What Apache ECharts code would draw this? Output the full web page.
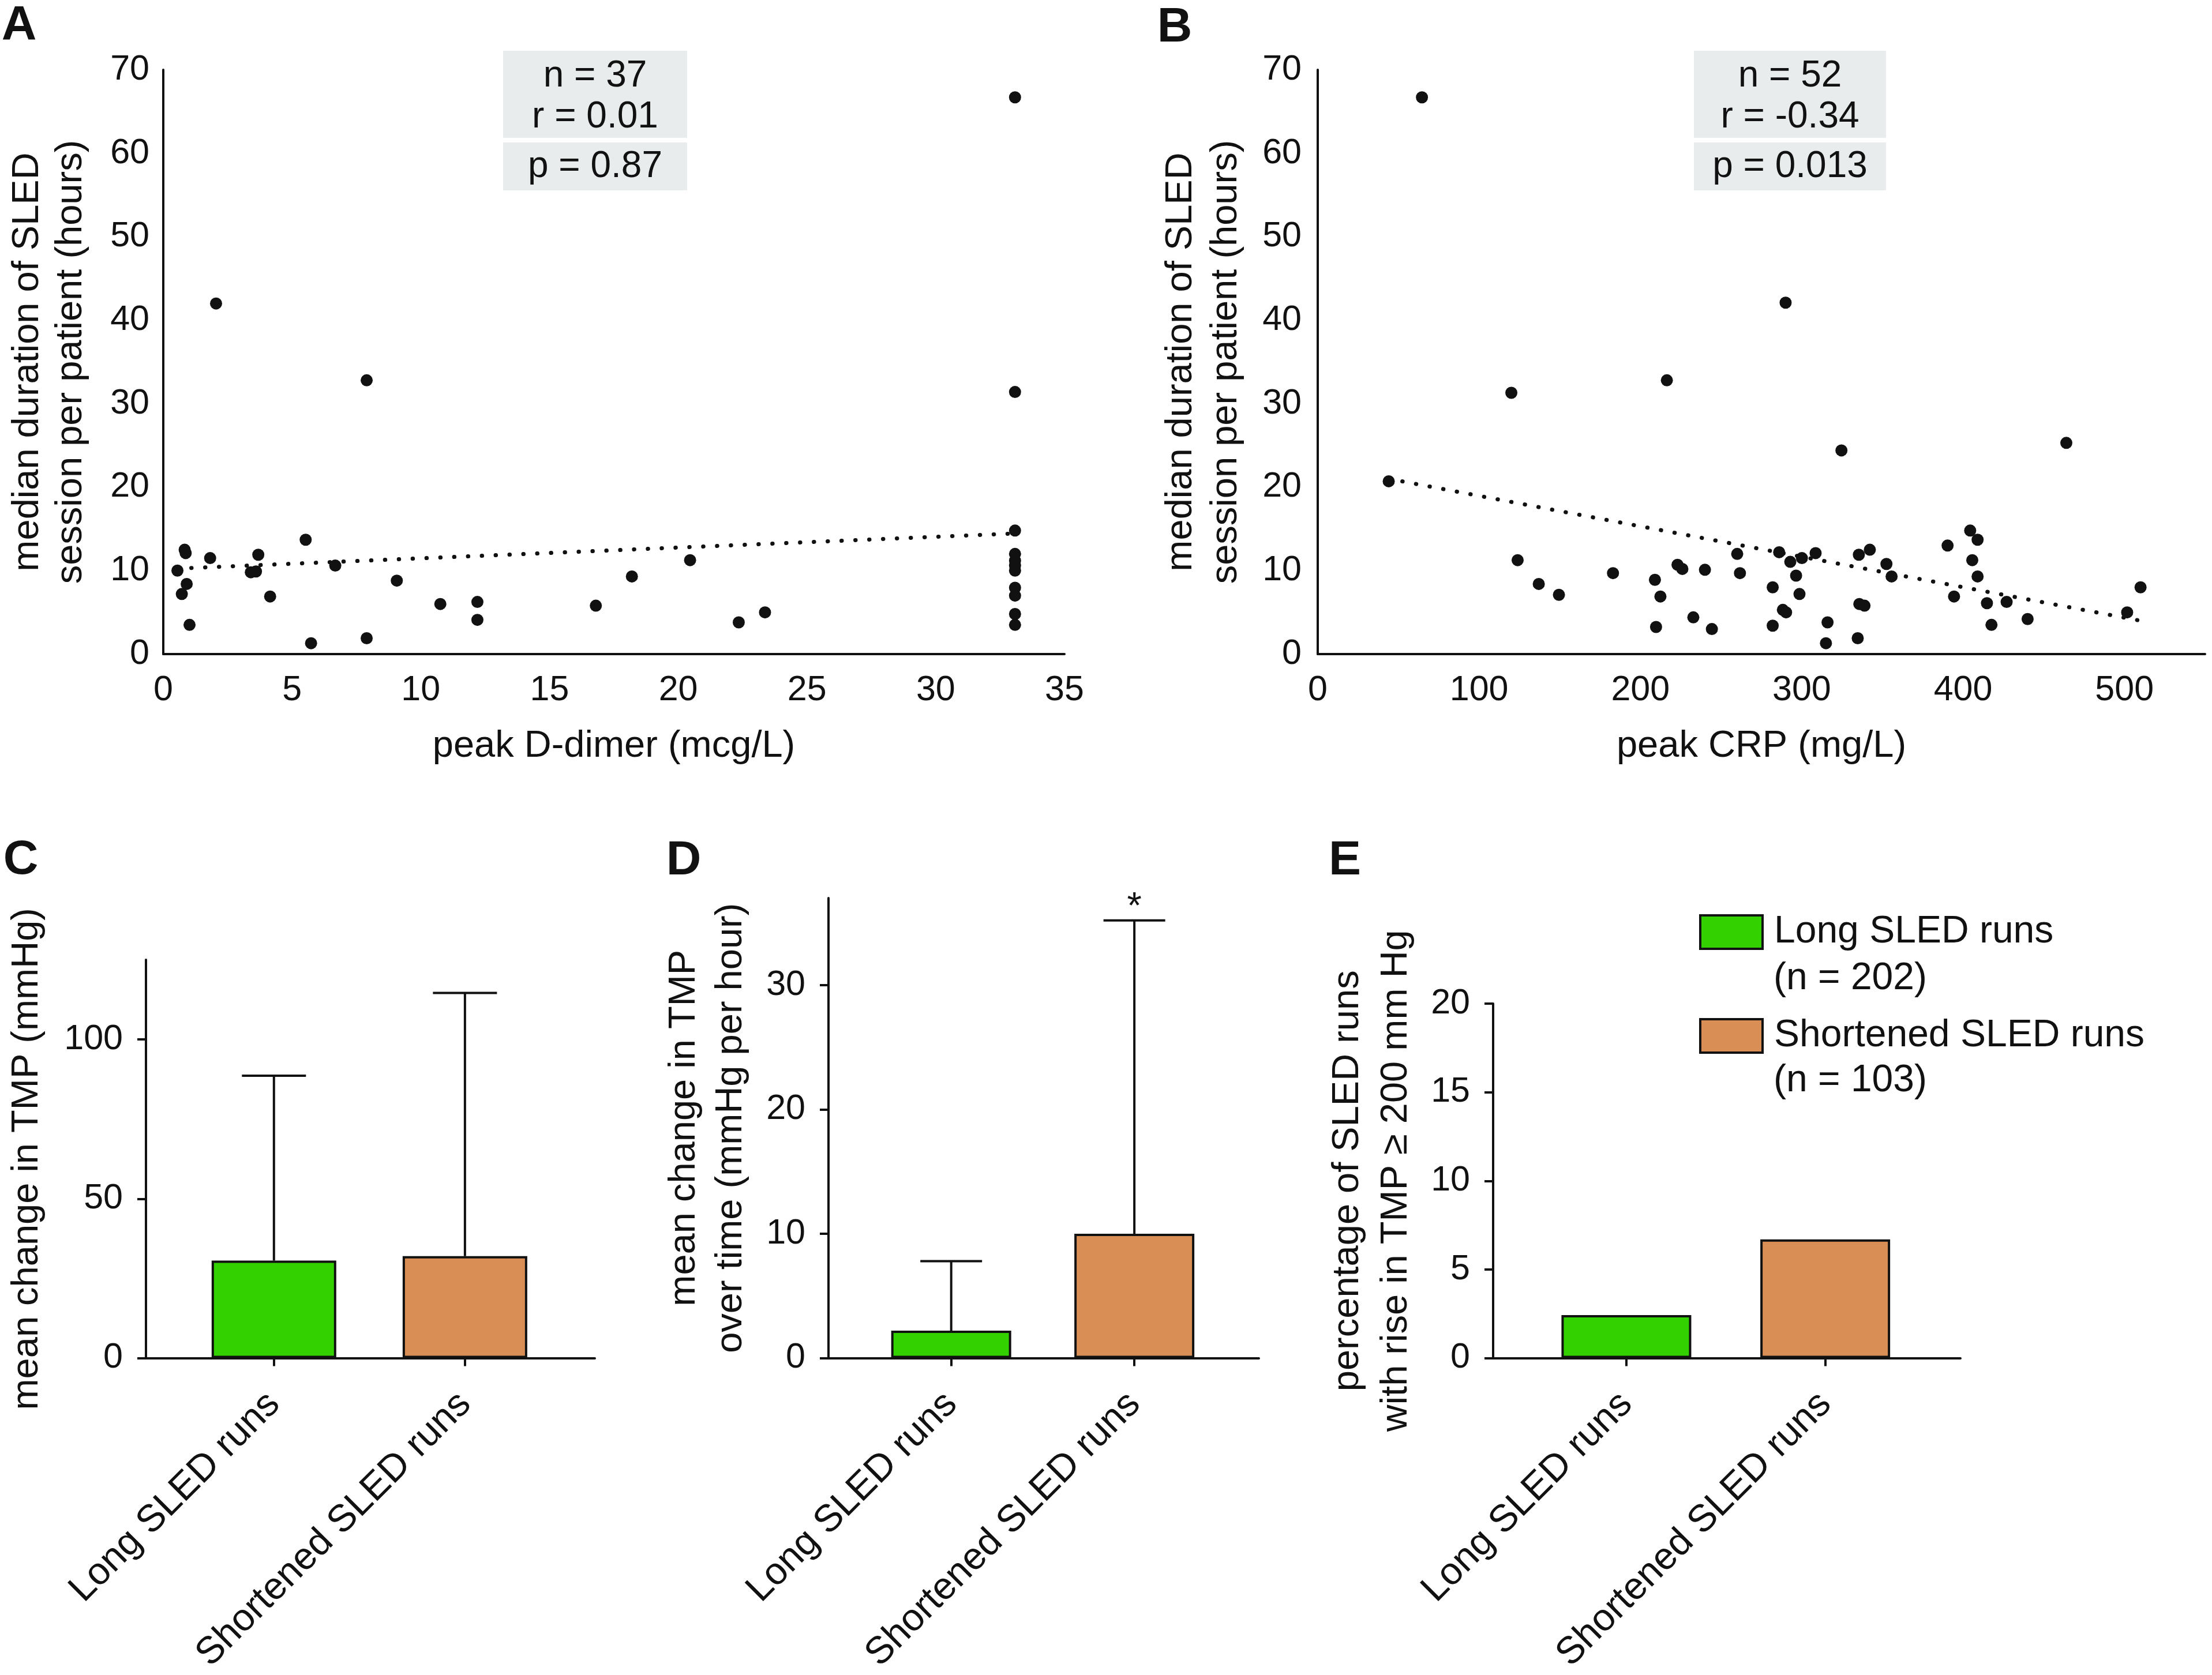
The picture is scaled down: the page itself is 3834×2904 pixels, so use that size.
<!DOCTYPE html>
<html><head><meta charset="utf-8">
<script src="https://cdn.jsdelivr.net/npm/echarts@6/dist/echarts.min.js"></script>
<style>html,body{margin:0;padding:0;background:#fff}#c{width:3834px;height:2904px}</style>
</head><body><div id="c"></div>
<script>
const FONT = '"Liberation Sans", Arial, Helvetica, sans-serif';
const INK = '#111';

// ---- Panel A: peak D-dimer vs median session duration ----
const dDimerA = [2.05, 7.9, 0.83, 0.87, 1.82, 0.55, 3.69, 3.4, 3.6, 5.53, 6.68, 0.91, 0.72, 4.15, 9.07, 1.02, 5.74, 7.9, 10.76, 12.2, 12.2, 16.8, 18.2, 20.46, 22.35, 23.37,
  33.08, 33.08, 33.08, 33.08, 33.08, 33.08, 33.08, 33.08, 33.08, 33.08, 33.08];
const durationA = [42.0, 32.8, 12.5, 12.1, 11.5, 10.0, 11.9, 9.8, 9.9, 13.7, 10.6, 8.4, 7.2, 6.9, 8.8, 3.5, 1.3, 1.9, 6.0, 6.25, 4.1, 5.8, 9.3, 11.25, 3.8, 5.0,
  66.7, 31.4, 14.8, 12.0, 11.2, 10.6, 10.0, 7.95, 7.0, 4.8, 3.5];
const trendA = [[0.55, 10.25], [33.08, 14.45]];
const statsA = ['n = 37', 'r = 0.01', 'p = 0.87'];

// ---- Panel B: peak CRP vs median session duration ----
const crpB = [64.6, 120, 216.4, 44, 123.9, 137, 149.5, 183, 209, 212.4, 209.7, 223, 226, 232.8, 240, 244.3, 260, 261.7,
  286, 292.9, 300.1, 296.5, 298.6, 282, 288.3, 290.3, 282, 290, 308.6, 316, 315, 324.6, 335.4, 342.2, 335.7, 338.9, 334.7,
  352.5, 355.7, 390.4, 404.4, 409, 405.7, 409, 394.4, 414.8, 427, 417.6, 440, 464, 501.7, 510];
const durationB = [66.7, 31.3, 32.8, 20.7, 11.25, 8.4, 7.1, 9.7, 8.9, 6.9, 3.25, 10.7, 10.2, 4.4, 10.1, 3.0, 12.0, 9.7,
  12.2, 11.05, 11.5, 9.4, 7.2, 8.0, 5.3, 5.0, 3.4, 42.1, 12.1, 3.8, 1.3, 24.4, 11.9, 12.5, 6.0, 5.8, 1.9,
  10.8, 9.3, 13.0, 14.8, 13.7, 11.25, 9.3, 6.9, 6.1, 6.25, 3.5, 4.2, 25.3, 5.0, 8.0];
const trendB = [[44, 21.0], [510, 4.0]];
const statsB = ['n = 52', 'r = -0.34', 'p = 0.013'];

// ---- Panels C-E: bar charts ----
const catNames = ['Long SLED runs', 'Shortened SLED runs'];
const groupColors = ['#33d100', '#d88e55'];
const meanTMP = [30.6, 32.0];
const upperTMP = [88.6, 114.6];
const meanRate = [2.2, 10.0];
const upperRate = [7.8, 35.2];
const sigRate = ['', '*'];
const pctHigh = [2.43, 6.7];
const legendCounts = ['(n = 202)', '(n = 103)'];

// tick labels
const ticksAx = [0, 5, 10, 15, 20, 25, 30, 35];
const ticksBx = [0, 100, 200, 300, 400, 500];
const ticksDur = [0, 10, 20, 30, 40, 50, 60, 70];
const ticksC = [0, 50, 100];
const ticksD = [0, 10, 20, 30];
const ticksE = [0, 5, 10, 15, 20];
const catPos = [0, 1];

const zip = (a, b) => a.map((v, i) => [v, b[i]]);
const line = { lineStyle: { color: INK, width: 4 } };
const tickFont = { fontFamily: FONT, fontSize: 61, color: INK };
const nameFont = (lh) => ({ fontFamily: FONT, fontSize: 65, color: INK, lineHeight: lh });

function scatterX(idx, max, ticks, name, gap) {
  return { gridIndex: idx, type: 'value', min: 0, max: max, interval: ticks[1] - ticks[0],
    axisLine: { show: true, onZero: false, ...line }, axisTick: { show: false }, splitLine: { show: false },
    axisLabel: { ...tickFont, margin: 33, customValues: ticks },
    name: name, nameLocation: 'middle', nameGap: gap, nameTextStyle: nameFont(78) };
}
function scatterY(idx, name, gap, lh, margin) {
  return { gridIndex: idx, type: 'value', min: 0, max: 70, interval: 10,
    axisLine: { show: true, onZero: false, ...line }, axisTick: { show: false }, splitLine: { show: false },
    axisLabel: { ...tickFont, margin: margin, customValues: ticksDur },
    name: name, nameLocation: 'middle', nameGap: gap, nameTextStyle: nameFont(lh) };
}
function barX(idx) {
  return { gridIndex: idx, type: 'value', min: -0.67, max: 1.68,
    axisLine: { show: true, onZero: false, ...line }, splitLine: { show: false },
    axisTick: { show: true, length: 14, lineStyle: { color: INK, width: 4 }, customValues: catPos },
    axisLabel: { fontFamily: FONT, fontSize: 66, color: INK, rotate: 45, margin: 70, customValues: catPos,
      formatter: (v) => catNames[Math.round(v)] } };
}
function barY(idx, max, ticks, name, gap, lh) {
  return { gridIndex: idx, type: 'value', min: 0, max: max,
    axisLine: { show: true, onZero: false, ...line }, splitLine: { show: false },
    axisTick: { show: true, length: 15, lineStyle: { color: INK, width: 4 }, customValues: ticks },
    axisLabel: { ...tickFont, margin: 40, customValues: ticks },
    name: name, nameLocation: 'middle', nameGap: gap, nameTextStyle: nameFont(lh) };
}
function barSeries(idx, vals, width) {
  return vals.map((v, i) => ({
    type: 'bar', name: catNames[i], xAxisIndex: idx, yAxisIndex: idx,
    data: [[catPos[i], v]], barWidth: width, barGap: '-100%',
    itemStyle: { color: groupColors[i], borderColor: INK, borderWidth: 4 }
  }));
}
function errSeries(idx, means, uppers, capW, marks) {
  return {
    type: 'custom', xAxisIndex: idx, yAxisIndex: idx, z: 5,
    data: means.map((m, i) => [catPos[i], m, uppers[i]]),
    renderItem: (params, api) => {
      const x = api.value(0);
      const p0 = api.coord([x, api.value(1)]);
      const p1 = api.coord([x, api.value(2)]);
      const st = { stroke: INK, lineWidth: 4 };
      const ch = [
        { type: 'line', shape: { x1: p0[0], y1: p0[1], x2: p1[0], y2: p1[1] }, style: st },
        { type: 'line', shape: { x1: p1[0] - capW / 2, y1: p1[1], x2: p1[0] + capW / 2, y2: p1[1] }, style: st }
      ];
      const mk = marks ? marks[params.dataIndex] : '';
      if (mk) ch.push({ type: 'text', style: { text: mk, x: p1[0], y: p1[1] - 22, align: 'center', verticalAlign: 'middle',
        font: '65px ' + FONT, fill: INK } });
      return { type: 'group', children: ch };
    }
  };
}
function trend(idx, data) {
  return { type: 'line', xAxisIndex: idx, yAxisIndex: idx, data: data, symbol: 'none', z: 3,
    lineStyle: { color: INK, width: 7, type: [0.5, 23.5], cap: 'round' } };
}
function scatter(idx, xs, ys) {
  return { type: 'scatter', xAxisIndex: idx, yAxisIndex: idx, data: zip(xs, ys), symbolSize: 21,
    itemStyle: { color: INK, opacity: 1 }, z: 4 };
}

const letters = [['A', 33, 46], ['B', 2036, 49], ['C', 36, 1492], ['D', 1185, 1493], ['E', 2331, 1493]];
const gfx = letters.map(l => ({ type: 'text', x: l[1], y: l[2],
  style: { text: l[0], font: 'bold 84px ' + FONT, fill: INK, align: 'center', verticalAlign: 'middle' } }));
function statBox(x, w, stats) {
  const cx = x + w / 2, bg = '#e8ecec';
  return [
    { type: 'rect', shape: { x: x, y: 88, width: w, height: 151 }, style: { fill: bg } },
    { type: 'rect', shape: { x: x, y: 247, width: w, height: 83 }, style: { fill: bg } },
    ...stats.map((s, i) => ({ type: 'text', x: cx, y: [132, 203, 289][i],
      style: { text: s, font: '64px ' + FONT, fill: INK, align: 'center', verticalAlign: 'middle' } }))
  ];
}
gfx.push(...statBox(872, 319, statsA), ...statBox(2936, 333, statsB));
legendCounts.forEach((t, i) => gfx.push({ type: 'text', x: 3074, y: [1697, 1874][i],
  style: { text: t, font: '66px ' + FONT, fill: INK, align: 'left', verticalAlign: 'middle' } }));

const option = {
  animation: false,
  backgroundColor: '#fff',
  textStyle: { fontFamily: FONT },
  grid: [
    { left: 283, right: 1989, top: 121, bottom: 1770 },
    { left: 2284, right: 12, top: 121, bottom: 1770 },
    { left: 253, right: 2803, top: 1664, bottom: 548 },
    { left: 1436, right: 1652, top: 1557, bottom: 548 },
    { left: 2588, right: 436, top: 1740, bottom: 549 }
  ],
  xAxis: [
    scatterX(0, 35, ticksAx, 'peak D-dimer (mcg/L)', 121),
    scatterX(1, 550, ticksBx, 'peak CRP (mg/L)', 121),
    barX(2), barX(3), barX(4)
  ],
  yAxis: [
    scatterY(0, 'median duration of SLED\nsession per patient (hours)', 122, 75, 24),
    scatterY(1, 'median duration of SLED\nsession per patient (hours)', 120, 78, 28),
    barY(2, 125, ticksC, 'mean change in TMP (mmHg)', 167, 78),
    barY(3, 37, ticksD, 'mean change in TMP\nover time (mmHg per hour)', 128, 81),
    barY(4, 20, ticksE, 'percentage of SLED runs\nwith rise in TMP \u2265 200 mm Hg', 126, 84)
  ],
  legend: {
    data: catNames, orient: 'vertical', left: 2945, top: 1583, padding: 0,
    itemWidth: 108, itemHeight: 58, itemGap: 114, icon: 'rect',
    itemStyle: { borderColor: INK, borderWidth: 4 },
    textStyle: { fontFamily: FONT, fontSize: 66, color: INK, lineHeight: 66, padding: [0, 0, 0, 15] },
    selectedMode: false
  },
  series: [
    scatter(0, dDimerA, durationA), trend(0, trendA),
    scatter(1, crpB, durationB), trend(1, trendB),
    ...barSeries(2, meanTMP, 216), errSeries(2, meanTMP, upperTMP, 111),
    ...barSeries(3, meanRate, 208), errSeries(3, meanRate, upperRate, 107, sigRate),
    ...barSeries(4, pctHigh, 225)
  ],
  graphic: gfx
};
const chart = echarts.init(document.getElementById('c'), null, { renderer: 'canvas' });
chart.setOption(option);
</script></body></html>
